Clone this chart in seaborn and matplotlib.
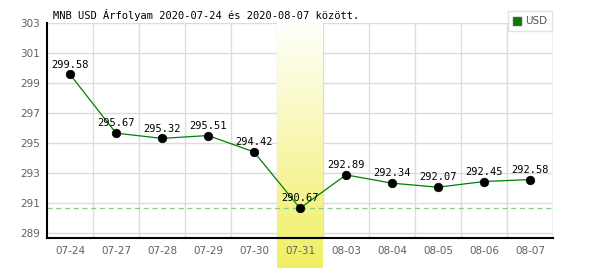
import numpy as np
import pandas as pd
import matplotlib
matplotlib.use("Agg")
import matplotlib.pyplot as plt
import seaborn as sns
from matplotlib.colors import LinearSegmentedColormap
from matplotlib.lines import Line2D

dates = ["07-24", "07-27", "07-28", "07-29", "07-30", "07-31",
         "08-03", "08-04", "08-05", "08-06", "08-07"]
usd = [299.58, 295.67, 295.32, 295.51, 294.42, 290.67,
       292.89, 292.34, 292.07, 292.45, 292.58]
yticks = [289, 291, 293, 295, 297, 299, 301, 303]
highlight_idx = 5
title = "MNB USD Árfolyam 2020-07-24 és 2020-08-07 között."

sns.set_style("white")
plt.rcParams["font.family"] = ["DejaVu Sans"]

W, H = 600, 270
fig = plt.figure(figsize=(W / 100, H / 100), dpi=100)
fig.patch.set_facecolor("white")
ax = fig.add_axes([47 / W, (H - 238) / H, 506 / W, 215 / H])
ax.set_facecolor("none")

df = pd.DataFrame({"x": np.arange(len(dates)), "v": usd})

ymin, ymax = 288.69, 303
ax.set_xlim(-0.5, len(dates) - 0.5)
ax.set_ylim(ymin, ymax)

# grid
for yv in yticks:
    ax.axhline(yv, color="#dcdcdc", lw=1, zorder=0.5)
for xv in np.arange(0.5, len(dates) - 0.4, 1.0):
    ax.axvline(xv, color="#dcdcdc", lw=1, zorder=0.5)
ax.axvline(len(dates) - 0.5, color="#dcdcdc", lw=1, zorder=0.5)

# highlight gradient (extends beyond axes)
cmap = LinearSegmentedColormap.from_list("hl", ["#ffffff", "#f0ef62"])
grad = np.linspace(0, 1, 256).reshape(-1, 1)
ytop = ymax + 3 / 15
ybot = ymin - (268 - 238) / 15
im = ax.imshow(grad, cmap=cmap, aspect="auto", origin="upper",
               extent=[highlight_idx - 0.5, highlight_idx + 0.5, ybot, ytop],
               zorder=1, interpolation="bilinear")
im.set_clip_on(False)
ax.set_xlim(-0.5, len(dates) - 0.5)
ax.set_ylim(ymin, ymax)

# min dashed line
ax.axhline(min(usd), color="#88cc88", lw=0.9, ls=(0, (4, 3)), zorder=2)

sns.lineplot(data=df, x="x", y="v", ax=ax, color="#008000", lw=0.9, zorder=3)
sns.scatterplot(data=df, x="x", y="v", ax=ax, color="black", s=38,
                edgecolor="black", zorder=4, legend=False)

for i, v in enumerate(usd):
    ax.annotate(f"{v:.2f}", (i, v), xytext=(0, 3.5), textcoords="offset points",
                ha="center", va="bottom", fontsize=7.5, family="DejaVu Sans Mono",
                color="black", zorder=5)

ax.set_xticks(range(len(dates)))
ax.set_xticklabels(dates)
ax.set_yticks(yticks)
ax.set_yticklabels([str(t) for t in yticks])
ax.tick_params(axis="both", length=0, labelsize=7.5, colors="#606060")
ax.tick_params(axis="x", pad=6)
ax.tick_params(axis="y", pad=5)
ax.xaxis.set_zorder(7)
ax.yaxis.set_zorder(7)
ax.set_xlabel("")
ax.set_ylabel("")

for s in ["top", "right"]:
    ax.spines[s].set_visible(False)
for s in ["left", "bottom"]:
    ax.spines[s].set_color("black")
    ax.spines[s].set_linewidth(1.5)
    ax.spines[s].set_zorder(6)

fig.text(53 / W, 1 - 15 / H, title, ha="left", va="center", fontsize=7.5,
         family="DejaVu Sans Mono", color="black")

handle = Line2D([], [], marker="s", color="none", markerfacecolor="#008000",
                markeredgecolor="#555555", markersize=6)
leg = fig.legend([handle], ["USD"], loc="upper right",
                 bbox_to_anchor=(552 / W, 1 - 11 / H), frameon=True,
                 fontsize=7.5, handlelength=0.8, handletextpad=0.3,
                 borderpad=0.5, fancybox=False, borderaxespad=0)
leg.get_frame().set_edgecolor("#dcdcdc")
leg.get_frame().set_linewidth(1)
for t in leg.get_texts():
    t.set_color("#555555")

fig.savefig("out.png", dpi=100)
